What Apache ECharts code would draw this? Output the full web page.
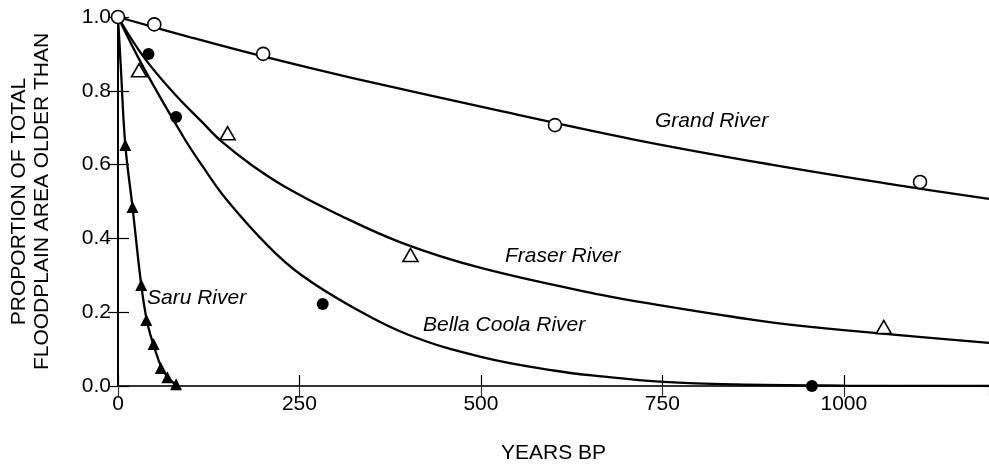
<!DOCTYPE html>
<html>
<head>
<meta charset="utf-8">
<script src="https://cdn.jsdelivr.net/npm/echarts@6/dist/echarts.min.js"></script>
<style>
  html, body { margin: 0; padding: 0; background: #fff; }
  #main { width: 989px; height: 469px; }
</style>
</head>
<body>
<div id="main"></div>
<script>
// measured points (years BP, proportion)
var grandX = [0, 50, 200, 602, 1105];
var grandY = [1.0, 0.98, 0.90, 0.707, 0.553];
var fraserX = [29, 151, 403, 1055];
var fraserY = [0.856, 0.685, 0.355, 0.16];
var bellaX = [42, 80, 282, 956];
var bellaY = [0.90, 0.729, 0.222, 0.0];
var saruX = [10, 20, 32, 39, 49, 59, 68, 80];
var saruY = [0.653, 0.485, 0.274, 0.179, 0.114, 0.049, 0.024, 0.005];

// fitted curves
var grandFitX = [0, 100, 200, 322, 528, 711, 900, 1078, 1200];
var grandFitY = [1.0, 0.945, 0.893, 0.835, 0.745, 0.668, 0.600, 0.543, 0.507];
var fraserFitX = [0, 36, 80, 116, 143, 184, 230, 299, 391, 500, 666, 752, 849, 941, 1200];
var fraserFitY = [1.0, 0.89, 0.787, 0.715, 0.662, 0.599, 0.54, 0.469, 0.388, 0.32, 0.247, 0.217, 0.187, 0.163, 0.117];
var bellaFitX = [0, 36, 91, 116, 150, 208, 253, 322, 400, 500, 600, 666, 752, 850, 1000, 1200];
var bellaFitY = [1.0, 0.86, 0.672, 0.597, 0.504, 0.377, 0.30, 0.215, 0.139, 0.079, 0.042, 0.026, 0.011, 0.004, 0.001, 0.0];
var saruFitX = [0, 4, 10, 20, 32, 40, 50, 60, 70, 81];
var saruFitY = [1.0, 0.86, 0.655, 0.485, 0.274, 0.175, 0.105, 0.05, 0.02, 0.003];

var xTicks = [0, 250, 500, 750, 1000];

function pairs(xs, ys) {
  return xs.map(function (x, i) { return [x, ys[i]]; });
}

var font = '"Liberation Sans", Arial, Helvetica, sans-serif';
var chart = echarts.init(document.getElementById('main'));

function fit(name, xs, ys) {
  return {
    name: name, type: 'line', data: pairs(xs, ys),
    smooth: 0.4, showSymbol: false, symbol: 'none',
    lineStyle: { color: '#000', width: 2.3 }, z: 2, silent: true
  };
}

function pts(name, xs, ys, symbol, size, filled) {
  return {
    name: name, type: 'scatter', data: pairs(xs, ys),
    symbol: symbol, symbolSize: size, clip: false, z: 5, silent: true,
    itemStyle: filled ? { color: '#000', opacity: 1 } : { color: '#fff', opacity: 1, borderColor: '#000', borderWidth: 1.6 }
  };
}

var option = {
  animation: false,
  backgroundColor: '#fff',
  textStyle: { fontFamily: font },
  grid: { left: 116, right: 0, top: 17, bottom: 83 },
  xAxis: [{
    type: 'value', min: 0, max: 1200, interval: 250,
    name: 'YEARS BP', nameLocation: 'middle', nameGap: 57,
    nameTextStyle: { fontSize: 21, color: '#000', fontFamily: font },
    axisLine: { show: true, lineStyle: { color: '#000', width: 2 } },
    axisTick: { show: true, inside: true, length: 11, lineStyle: { color: '#000', width: 1.2 } },
    axisLabel: {
      fontSize: 21, color: '#000', margin: 8, fontFamily: font, showMaxLabel: false,
      formatter: function (v) { return xTicks.indexOf(v) >= 0 ? String(v) : ''; }
    },
    splitLine: { show: false }
  }, {
    type: 'value', position: 'top', min: 0, max: 1200, interval: 250,
    axisLine: { show: true, lineStyle: { color: '#444', width: 1.5 } },
    axisTick: { show: true, inside: true, length: 11, lineStyle: { color: '#333', width: 1.2 } },
    axisLabel: { show: false },
    splitLine: { show: false }
  }],
  yAxis: [{
    type: 'value', min: 0, max: 1, interval: 0.2,
    name: 'PROPORTION OF TOTAL\nFLOODPLAIN AREA OLDER THAN',
    nameLocation: 'middle', nameRotate: 90, nameGap: 64,
    nameTextStyle: { fontSize: 21, lineHeight: 23, color: '#000', fontFamily: font },
    axisLine: { show: true, lineStyle: { color: '#000', width: 2 } },
    axisTick: { show: true, inside: true, length: 11, lineStyle: { color: '#000', width: 1.2 } },
    axisLabel: {
      fontSize: 21, color: '#000', margin: 7, fontFamily: font,
      formatter: function (v) { return v.toFixed(1); }
    },
    splitLine: { show: false }
  }, {
    type: 'value', position: 'right', min: 0, max: 1, interval: 0.2,
    axisLine: { show: true, lineStyle: { color: '#000', width: 1.5 } },
    axisTick: { show: true, inside: true, length: 10, lineStyle: { color: '#000', width: 1.2 } },
    axisLabel: { show: false },
    splitLine: { show: false }
  }],
  series: [
    fit('Grand fit', grandFitX, grandFitY),
    fit('Fraser fit', fraserFitX, fraserFitY),
    fit('Bella Coola fit', bellaFitX, bellaFitY),
    fit('Saru fit', saruFitX, saruFitY),
    pts('Fraser River', fraserX, fraserY, 'triangle', [15, 13], false),
    pts('Bella Coola River', bellaX, bellaY, 'circle', 12, true),
    pts('Saru River', saruX, saruY, 'triangle', [12, 12], true),
    pts('Grand River', grandX, grandY, 'circle', 13, false)
  ],
  graphic: [
    { type: 'text', left: 655, top: 111, style: { text: 'Grand River', font: 'italic 21px ' + font, fill: '#000' } },
    { type: 'text', left: 505, top: 246, style: { text: 'Fraser River', font: 'italic 21px ' + font, fill: '#000' } },
    { type: 'text', left: 423, top: 315, style: { text: 'Bella Coola River', font: 'italic 21px ' + font, fill: '#000' } },
    { type: 'text', left: 147, top: 288, style: { text: 'Saru River', font: 'italic 21px ' + font, fill: '#000' } }
  ]
};

chart.setOption(option);
</script>
</body>
</html>
